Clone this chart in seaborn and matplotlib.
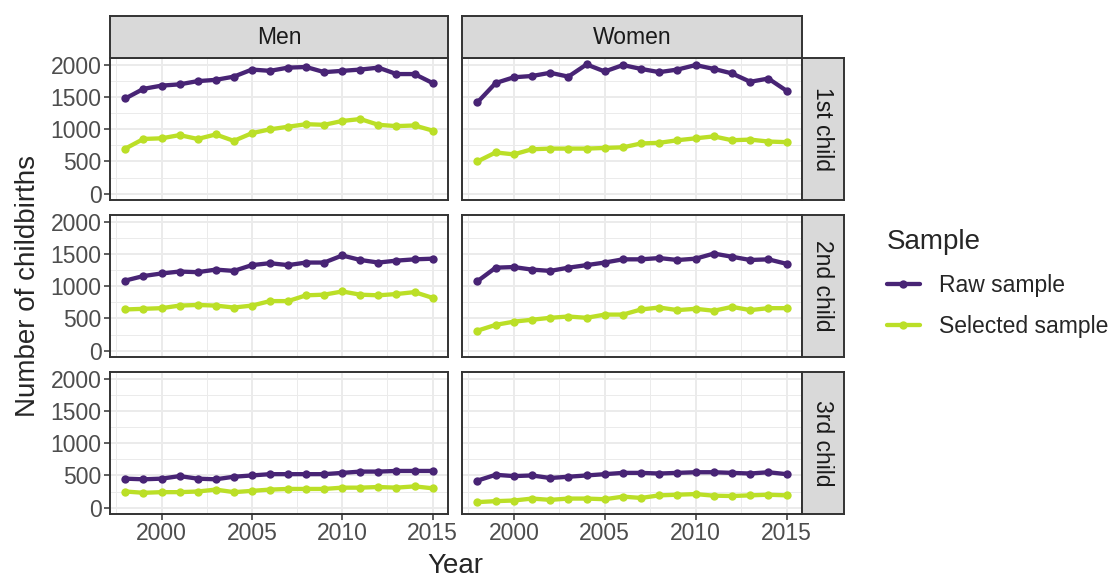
import numpy as np
import pandas as pd
import seaborn as sns
import matplotlib.pyplot as plt
from matplotlib.ticker import MultipleLocator

# ------ data ------

years = list(range(1998, 2016))
sexes = ["Men", "Women"]
parities = ["1st child", "2nd child", "3rd child"]
samples = ["Raw sample", "Selected sample"]

men_1st_raw = [1480, 1630, 1680, 1700, 1750, 1770, 1820, 1930, 1910, 1960, 1970, 1890, 1910, 1930, 1960, 1860, 1860, 1720]
men_1st_sel = [700, 850, 860, 910, 850, 920, 820, 940, 1000, 1040, 1080, 1070, 1130, 1160, 1070, 1050, 1060, 980]
women_1st_raw = [1420, 1720, 1810, 1830, 1880, 1820, 2010, 1900, 2000, 1940, 1890, 1930, 2000, 1940, 1870, 1740, 1790, 1600]
women_1st_sel = [500, 640, 610, 690, 700, 700, 700, 710, 720, 780, 790, 830, 860, 890, 830, 840, 810, 800]

men_2nd_raw = [1090, 1160, 1200, 1230, 1220, 1260, 1240, 1330, 1360, 1330, 1370, 1370, 1480, 1410, 1370, 1400, 1420, 1430]
men_2nd_sel = [640, 650, 660, 700, 710, 700, 670, 700, 770, 770, 860, 870, 920, 870, 860, 880, 910, 820]
women_2nd_raw = [1080, 1290, 1300, 1260, 1240, 1290, 1330, 1370, 1420, 1420, 1440, 1410, 1430, 1510, 1460, 1410, 1420, 1350]
women_2nd_sel = [310, 400, 450, 480, 510, 530, 510, 560, 560, 640, 670, 630, 650, 620, 680, 630, 660, 660]

men_3rd_raw = [450, 440, 450, 490, 450, 440, 480, 500, 520, 520, 520, 520, 540, 560, 560, 570, 570, 570]
men_3rd_sel = [250, 230, 240, 240, 250, 280, 240, 260, 280, 290, 290, 290, 310, 310, 320, 310, 330, 300]
women_3rd_raw = [420, 510, 490, 500, 460, 480, 500, 520, 540, 540, 530, 540, 550, 550, 540, 530, 550, 520]
women_3rd_sel = [85, 100, 110, 140, 120, 140, 140, 130, 170, 150, 190, 200, 210, 185, 180, 190, 200, 190]

series = {
    ("Men", "1st child"): (men_1st_raw, men_1st_sel),
    ("Women", "1st child"): (women_1st_raw, women_1st_sel),
    ("Men", "2nd child"): (men_2nd_raw, men_2nd_sel),
    ("Women", "2nd child"): (women_2nd_raw, women_2nd_sel),
    ("Men", "3rd child"): (men_3rd_raw, men_3rd_sel),
    ("Women", "3rd child"): (women_3rd_raw, women_3rd_sel),
}

rows = []
for (sex, parity), (raw, sel) in series.items():
    for s, vals in zip(samples, (raw, sel)):
        for y, v in zip(years, vals):
            rows.append({"sex": sex, "parity": parity, "Sample": s, "Year": y, "n": v})
df = pd.DataFrame(rows)

palette = {"Raw sample": "#482475", "Selected sample": "#BBDF27"}

# ------ layout (pixel boxes) ------

sns.set_style("white")
plt.rcParams["font.family"] = ["Liberation Sans", "DejaVu Sans"]

W, H = 1112, 578
fig = plt.figure(figsize=(W / 100, H / 100), dpi=100)


def box(x0, y0, x1, y1):
    return [x0 / W, 1 - y1 / H, (x1 - x0) / W, (y1 - y0) / H]


col_x = [(110, 448), (462, 802)]
row_y = [(58, 200), (215, 357), (372, 514)]
border = "#333333"
tick_col = "#4D4D4D"
fs_small = 16.5
fs_title = 20
lw_line = 3.1
ms = 6


def strip(x0, y0, x1, y1, label, rot=0):
    sa = fig.add_axes(box(x0, y0, x1, y1))
    sa.set_facecolor("#D9D9D9")
    sa.set_xticks([])
    sa.set_yticks([])
    for sp in sa.spines.values():
        sp.set_color(border)
        sp.set_linewidth(1.4)
    sa.text(0.5, 0.5, label, ha="center", va="center", fontsize=fs_small,
            color="#1A1A1A", rotation=rot, transform=sa.transAxes)


for i, parity in enumerate(parities):
    for j, sex in enumerate(sexes):
        x0, x1 = col_x[j]
        y0, y1 = row_y[i]
        ax = fig.add_axes(box(x0, y0, x1, y1))
        sub = df[(df.sex == sex) & (df.parity == parity)]
        sns.lineplot(data=sub, x="Year", y="n", hue="Sample", palette=palette,
                     marker="o", markersize=ms, markeredgewidth=0, linewidth=lw_line,
                     legend=False, ax=ax, zorder=3)
        ax.set_xlim(1997.15, 2015.85)
        ax.set_ylim(-100, 2110)
        ax.xaxis.set_major_locator(MultipleLocator(5))
        ax.xaxis.set_minor_locator(MultipleLocator(2.5))
        ax.yaxis.set_major_locator(MultipleLocator(500))
        ax.yaxis.set_minor_locator(MultipleLocator(250))
        ax.grid(which="major", color="#EBEBEB", lw=1.4)
        ax.grid(which="minor", color="#EBEBEB", lw=0.7)
        ax.set_axisbelow(True)
        for sp in ax.spines.values():
            sp.set_color(border)
            sp.set_linewidth(1.4)
        ax.set_xlabel("")
        ax.set_ylabel("")
        ax.tick_params(which="minor", length=0)
        ax.tick_params(which="major", length=4, width=1.1, color=border,
                       labelsize=fs_small, labelcolor=tick_col, pad=2)
        ax.tick_params(axis="x", bottom=(i == 2), labelbottom=(i == 2))
        ax.tick_params(axis="y", left=(j == 0), labelleft=(j == 0))

        if i == 0:
            strip(x0, 16, x1, 58, sex)
        if j == 1:
            strip(802, y0, 844, y1, parity, rot=-90)

# axis titles
fig.text(455 / W, 1 - 566 / H, "Year", ha="center", va="center", fontsize=fs_title)
fig.text(28 / W, 1 - 286 / H, "Number of childbirths", ha="center", va="center",
         rotation=90, fontsize=fs_title)

# legend
handles = [plt.Line2D([], [], color=palette[s], lw=lw_line, marker="o", markersize=ms,
                      markeredgewidth=0) for s in samples]
leg = fig.legend(handles, samples, loc="upper left", bbox_to_anchor=(866 / W, 1 - 208 / H),
                 frameon=False, title="Sample", fontsize=fs_small, title_fontsize=fs_title,
                 handlelength=1.45, handletextpad=0.85, labelspacing=0.8, alignment="left")
leg._legend_box.sep = 14

fig.savefig("out.png", dpi=100)
